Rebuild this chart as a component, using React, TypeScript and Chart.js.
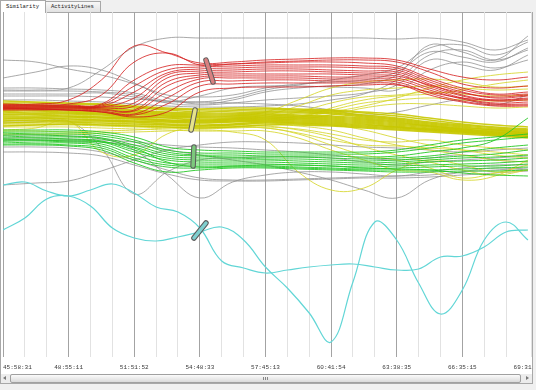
import React, { useEffect, useRef } from "react";
import { Chart, registerables } from "chart.js";
Chart.register(...registerables);

// x axis: sample index (one grid step = one sample), majors every 3 samples
const TICK_LABELS = ["45:58:31", "48:55:11", "51:51:52", "54:48:33", "57:45:13", "60:41:54", "63:38:35", "66:35:15", "69:31:56"];
const X_MAX = 24.14;
const XS = [0, 1.5, 3, 4.5, 6, 7.5, 9, 10.5, 12, 13.5, 15, 16.5, 18, 19.5, 21, 22.5, 24];
const XC = [0, 1, 2, 3, 4, 5, 6, 7, 8, 9, 10, 11, 12, 13, 14, 15, 16, 17, 18, 19, 20, 21, 22, 23, 24];

const CYAN = [
  [175, 178, 169, 164, 170, 176, 167, 153, 148, 132, 99, 92, 87, 90, 93, 95, 96, 93, 90, 91, 103, 104, 113, 128, 130],
  [130, 142, 161, 164, 154, 132, 122, 119, 123, 128, 133, 120, 93, 72, 47, 18, 78, 138, 120, 77, 46, 70, 120, 138, 120],
];

const RED = [
  [256, 256, 260, 280, 314, 307, 297, 298, 300, 301, 302, 302, 300, 291, 283, 280, 283],
  [255, 255, 256, 265, 298, 307, 295, 296, 298, 299, 300, 300, 298, 288, 276, 272, 274],
  [255, 255, 255, 256, 280, 294, 295, 296, 297, 298, 298, 297, 294, 282, 272, 266, 268],
  [254, 254, 254, 255, 274, 290, 293, 294, 295, 295, 295, 294, 292, 280, 270, 265, 266],
  [254, 254, 254, 254, 268, 287, 291, 292, 293, 293, 293, 292, 290, 278, 268, 262, 264],
  [253, 253, 253, 253, 262, 285, 289, 290, 291, 291, 290, 289, 288, 276, 265, 260, 261],
  [253, 253, 253, 253, 257, 282, 287, 288, 289, 289, 288, 287, 286, 274, 264, 259, 260],
  [252, 252, 252, 252, 254, 278, 285, 286, 286, 286, 286, 285, 284, 275, 267, 263, 265],
  [252, 252, 252, 251, 250, 274, 283, 284, 284, 284, 283, 283, 282, 272, 262, 257, 258],
  [252, 251, 251, 250, 249, 268, 281, 282, 282, 282, 281, 281, 280, 270, 261, 256, 256],
  [251, 251, 250, 249, 246, 262, 278, 279, 280, 280, 279, 279, 278, 267, 259, 255, 255],
  [251, 251, 250, 248, 245, 256, 274, 276, 277, 277, 277, 277, 276, 265, 258, 254, 254],
  [250, 250, 250, 248, 243, 248, 268, 272, 273, 273, 274, 275, 275, 268, 262, 260, 262],
];

const YELLOW_CORE = [
  [259, 258, 257, 256, 254, 252, 251, 252, 252, 251, 250, 248, 246, 242, 238, 235, 233],
  [257, 257, 256, 255, 253, 251, 250, 250, 251, 250, 249, 247, 244, 240, 236, 233, 231],
  [256, 255, 254, 253, 252, 250, 248, 249, 249, 249, 248, 245, 242, 238, 235, 232, 230],
  [254, 254, 253, 252, 250, 248, 247, 247, 248, 248, 247, 244, 241, 237, 234, 231, 229],
  [253, 252, 252, 251, 249, 247, 246, 246, 247, 247, 246, 243, 240, 236, 233, 230, 228],
  [252, 251, 250, 250, 248, 246, 245, 245, 246, 245, 244, 242, 239, 235, 232, 230, 227],
  [250, 250, 249, 248, 247, 245, 244, 244, 245, 244, 243, 241, 238, 234, 231, 229, 227],
  [249, 249, 248, 247, 246, 244, 243, 243, 244, 243, 242, 240, 237, 234, 231, 228, 226],
  [248, 247, 247, 246, 244, 243, 242, 242, 243, 242, 241, 239, 236, 233, 230, 228, 226],
  [246, 246, 246, 245, 243, 242, 240, 241, 242, 241, 240, 238, 235, 232, 230, 227, 225],
  [245, 245, 244, 243, 242, 240, 239, 240, 241, 240, 239, 237, 234, 231, 229, 227, 225],
  [243, 243, 243, 242, 241, 239, 238, 239, 240, 239, 238, 236, 233, 231, 229, 226, 224],
  [241, 242, 241, 240, 239, 238, 237, 238, 239, 238, 237, 235, 233, 230, 228, 226, 224],
  [239, 240, 239, 239, 238, 236, 235, 236, 238, 237, 236, 234, 232, 230, 228, 225, 223],
  [237, 238, 238, 237, 236, 235, 234, 235, 237, 236, 235, 233, 231, 229, 227, 225, 223],
  [234, 235, 236, 235, 234, 233, 232, 233, 235, 235, 234, 232, 230, 228, 226, 224, 222],
];

const YELLOW_SPREAD = [
  [230, 232, 239, 208, 205, 226, 234, 236, 238, 237, 235, 230, 222, 215, 210, 205, 202],
  [229, 229, 228, 229, 230, 232, 233, 233, 232, 227, 220, 215, 214, 212, 210, 208, 205],
  [226, 226, 226, 227, 228, 229, 230, 228, 220, 188, 170, 172, 190, 200, 195, 188, 190],
  [248, 248, 247, 246, 245, 244, 243, 244, 248, 260, 272, 278, 280, 281, 278, 273, 274],
  [246, 246, 245, 244, 243, 242, 241, 242, 245, 254, 265, 270, 272, 274, 272, 270, 271],
  [244, 244, 244, 243, 242, 240, 240, 241, 243, 248, 257, 263, 265, 268, 266, 264, 265],
  [242, 242, 242, 241, 240, 239, 239, 240, 241, 244, 250, 257, 260, 262, 260, 259, 260],
  [240, 240, 240, 239, 238, 237, 237, 238, 239, 241, 245, 252, 256, 256, 254, 252, 253],
  [243, 243, 243, 242, 241, 240, 240, 241, 242, 243, 248, 254, 262, 272, 280, 285, 288],
  [241, 241, 241, 240, 239, 238, 238, 239, 240, 242, 252, 260, 264, 266, 270, 276, 280],
  [239, 239, 238, 238, 237, 235, 234, 235, 236, 234, 230, 222, 215, 210, 205, 200, 198],
  [237, 237, 237, 236, 235, 234, 233, 234, 234, 230, 223, 213, 205, 198, 190, 185, 190],
  [235, 235, 235, 234, 233, 232, 231, 232, 232, 226, 215, 205, 200, 192, 182, 187, 195],
  [233, 233, 233, 232, 231, 230, 229, 229, 229, 222, 210, 200, 190, 188, 180, 184, 200],
  [236, 236, 236, 235, 234, 233, 232, 233, 233, 231, 226, 220, 218, 220, 215, 212, 210],
];

const GREEN = [
  [230, 230, 230, 228, 223, 213, 210, 209, 208, 208, 208, 208, 210, 215, 220, 223, 226],
  [228, 228, 228, 226, 220, 210, 207, 207, 206, 206, 206, 206, 208, 212, 217, 220, 223],
  [227, 226, 226, 224, 218, 208, 205, 205, 204, 204, 204, 203, 204, 208, 212, 220, 242],
  [225, 225, 224, 222, 215, 206, 204, 203, 203, 203, 202, 201, 202, 204, 208, 212, 215],
  [224, 223, 223, 221, 213, 204, 202, 202, 201, 201, 200, 199, 200, 202, 204, 206, 210],
  [222, 222, 221, 219, 210, 202, 200, 200, 200, 199, 198, 197, 198, 200, 202, 203, 205],
  [221, 220, 220, 218, 208, 200, 198, 198, 198, 197, 196, 195, 196, 198, 199, 200, 202],
  [219, 219, 218, 216, 205, 197, 196, 196, 196, 195, 194, 193, 194, 195, 196, 197, 199],
  [218, 217, 217, 214, 202, 195, 194, 194, 194, 193, 192, 191, 192, 193, 194, 194, 196],
  [216, 216, 215, 212, 200, 193, 192, 193, 193, 192, 191, 190, 190, 190, 191, 192, 193],
  [215, 215, 214, 210, 197, 188, 190, 192, 192, 191, 190, 189, 188, 188, 189, 189, 190],
  [220, 220, 219, 218, 212, 198, 193, 194, 195, 195, 194, 192, 191, 190, 187, 185, 184],
];

const GRAY = [
  [270, 270, 272, 290, 313, 322, 322, 322, 322, 322, 322, 322, 321, 322, 318, 310, 320],
  [300, 298, 291, 285, 276, 265, 263, 265, 272, 276, 278, 280, 288, 308, 303, 298, 312],
  [282, 288, 294, 290, 277, 262, 256, 260, 268, 272, 274, 276, 285, 315, 308, 300, 324],
  [272, 272, 271, 270, 267, 259, 258, 262, 270, 275, 280, 285, 292, 312, 315, 305, 318],
  [269, 269, 269, 268, 265, 257, 255, 257, 260, 262, 264, 267, 275, 300, 295, 290, 305],
  [266, 266, 266, 267, 263, 258, 264, 272, 274, 274, 273, 272, 270, 290, 298, 292, 300],
  [264, 264, 264, 263, 261, 259, 258, 257, 256, 254, 250, 245, 248, 255, 260, 255, 265],
  [213, 213, 212, 208, 200, 190, 182, 180, 180, 181, 182, 183, 184, 185, 188, 190, 192],
  [208, 208, 207, 204, 195, 186, 180, 179, 179, 180, 181, 182, 182, 183, 185, 187, 189],
  [238, 238, 239, 212, 166, 188, 200, 202, 203, 203, 202, 198, 195, 198, 200, 202, 204],
  [225, 225, 224, 222, 210, 185, 162, 178, 185, 188, 188, 186, 184, 188, 192, 195, 195],
  [220, 220, 219, 218, 215, 210, 205, 200, 195, 188, 180, 170, 162, 180, 188, 192, 190],
  [175, 177, 179, 189, 200, 210, 215, 218, 218, 217, 215, 213, 212, 210, 208, 210, 212],
  [222, 222, 221, 220, 218, 215, 213, 212, 210, 208, 205, 202, 200, 202, 205, 200, 198],
  [260, 260, 259, 258, 256, 254, 253, 253, 254, 256, 260, 266, 280, 305, 310, 300, 310],
];

// group handles (selection bars) drawn over the lines
const HANDLE_X1 = [9.28, 8.78, 8.73, 9.28];
const HANDLE_Y1 = [300, 250, 213, 137];
const HANDLE_X2 = [9.6, 8.6, 8.69, 8.73];
const HANDLE_Y2 = [278, 230, 194, 122];
const HANDLE_FILL = ["#d98080", "#e6e38a", "#7cc87c", "#7fcfcf"];

const C_GRAY = "rgba(140,140,140,0.75)";
const C_YCORE = "rgba(200,200,0,0.9)";
const C_YSPREAD = "rgba(214,214,45,0.85)";
const C_RED = "rgba(212,28,28,0.8)";
const C_GREEN = "rgba(38,200,38,0.9)";
const C_CYAN = "rgb(98,214,214)";

const overlay = {
  id: "overlay",
  afterDatasetsDraw(chart: any) {
    const { ctx, scales } = chart;
    const xs = scales.x, ys = scales.y;
    ctx.save();
    ctx.lineCap = "round";
    for (let i = 0; i < HANDLE_X1.length; i++) {
      const x1 = xs.getPixelForValue(HANDLE_X1[i]);
      const y1 = ys.getPixelForValue(HANDLE_Y1[i]);
      const x2 = xs.getPixelForValue(HANDLE_X2[i]);
      const y2 = ys.getPixelForValue(HANDLE_Y2[i]);
      ctx.beginPath();
      ctx.moveTo(x1, y1);
      ctx.lineTo(x2, y2);
      ctx.strokeStyle = "#5a5a5a";
      ctx.lineWidth = 5.5;
      ctx.stroke();
      ctx.beginPath();
      ctx.moveTo(x1, y1);
      ctx.lineTo(x2, y2);
      ctx.strokeStyle = HANDLE_FILL[i];
      ctx.lineWidth = 3.5;
      ctx.stroke();
    }
    ctx.restore();
  },
  afterDraw(chart: any) {
    const { ctx, scales, chartArea } = chart;
    ctx.save();
    ctx.font = '6px "Liberation Mono"';
    ctx.fillStyle = "#3a3a3a";
    ctx.textBaseline = "middle";
    TICK_LABELS.forEach((t, i) => {
      const x = scales.x.getPixelForValue(i * 3);
      ctx.textAlign = i === 0 ? "left" : "center";
      ctx.fillText(t, x, chartArea.bottom + 10);
    });
    ctx.restore();
  },
};

export default function App() {
  const ref = useRef<HTMLCanvasElement>(null);
  useEffect(() => {
    const mk = (ys: number[], color: string, w: number, xs: number[] = XS) => ({
      data: ys.map((y, i) => ({ x: xs[i], y })),
      borderColor: color,
      borderWidth: w,
      pointRadius: 0,
      tension: 0.4,
      fill: false,
    });
    const datasets: any[] = [
      ...CYAN.map((d) => mk(d, C_CYAN, 1.2, XC)),
      ...GREEN.map((d) => mk(d, C_GREEN, 1)),
      ...RED.map((d) => mk(d, C_RED, 1)),
      ...YELLOW_CORE.map((d) => mk(d, C_YCORE, 1.4)),
      ...YELLOW_SPREAD.map((d) => mk(d, C_YSPREAD, 1)),
      ...GRAY.map((d) => mk(d, C_GRAY, 1)),
    ];
    const chart = new Chart(ref.current as HTMLCanvasElement, {
      type: "line",
      data: { datasets },
      options: {
        animation: false,
        responsive: false,
        events: [],
        layout: { padding: { left: 3, right: 2, top: 0, bottom: 15 } },
        plugins: { legend: { display: false }, tooltip: { enabled: false } },
        scales: {
          x: {
            type: "linear",
            min: 0,
            max: X_MAX,
            ticks: { display: false, stepSize: 1 },
            grid: {
              drawTicks: false,
              lineWidth: 1,
              color: (c: any) => (Math.abs(c.tick.value % 3) < 0.001 ? "#a3a3a3" : "#e2e2e2"),
            },
            border: { display: false },
          },
          y: { display: false, min: 3, max: 348 },
        },
      } as any,
      plugins: [overlay],
    });
    return () => chart.destroy();
  }, []);

  const mono = '"Liberation Mono", "DejaVu Sans Mono", monospace';
  return (
    <div style={{ position: "fixed", left: 0, top: 0, width: 536, height: 390, background: "#f0f0f0", overflow: "hidden", fontFamily: mono }}>
      <div style={{ position: "absolute", left: 0, top: 12, width: 533, height: 372, boxSizing: "border-box", border: "1px solid #a8a8a8", background: "#fff" }} />
      <div style={{ position: "absolute", left: 45, top: 1, width: 56, height: 11, boxSizing: "border-box", border: "1px solid #a8a8a8", borderBottom: "none", background: "linear-gradient(#f8f8f8,#e2e2e2)", fontSize: 5.5, lineHeight: "10px", paddingLeft: 5, color: "#222" }}>ActivityLines</div>
      <div style={{ position: "absolute", left: 0, top: 0, width: 46, height: 13, boxSizing: "border-box", border: "1px solid #a8a8a8", borderBottom: "none", background: "#fff", fontSize: 5.5, lineHeight: "11px", paddingLeft: 5, color: "#222" }}>Similarity</div>
      <canvas ref={ref} width={533} height={360} style={{ position: "absolute", left: 0, top: 12, width: 533, height: 360 }} />
      <div style={{ position: "absolute", left: 1, top: 374, width: 531, height: 9, background: "#ececec" }}>
        <div style={{ position: "absolute", left: 2, top: 2, width: 0, height: 0, borderTop: "2px solid transparent", borderBottom: "2px solid transparent", borderRight: "3px solid #777" }} />
        <div style={{ position: "absolute", left: 9, top: 0, width: 511, height: 9, boxSizing: "border-box", border: "1px solid #a0a0a0", borderRadius: 2, background: "linear-gradient(#fbfbfb,#dadada)" }}>
          <div style={{ position: "absolute", left: 252, top: 2, width: 1, height: 3, background: "#888" }} />
          <div style={{ position: "absolute", left: 254, top: 2, width: 1, height: 3, background: "#888" }} />
          <div style={{ position: "absolute", left: 256, top: 2, width: 1, height: 3, background: "#888" }} />
        </div>
        <div style={{ position: "absolute", left: 525, top: 2, width: 0, height: 0, borderTop: "2px solid transparent", borderBottom: "2px solid transparent", borderLeft: "3px solid #777" }} />
      </div>
    </div>
  );
}
